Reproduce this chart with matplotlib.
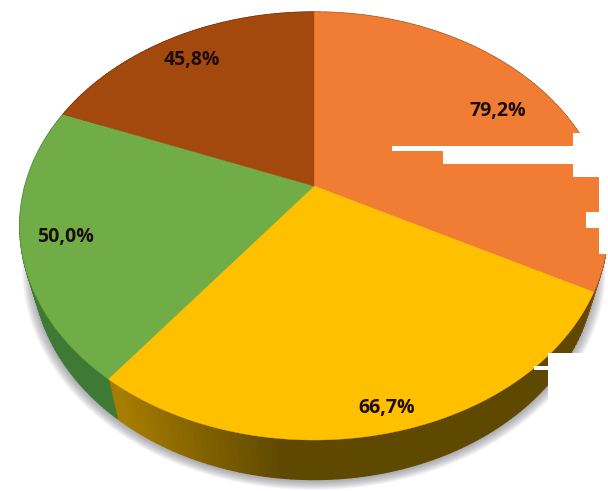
import numpy as np
import matplotlib
matplotlib.use("Agg")
import matplotlib.pyplot as plt
from matplotlib.patches import Polygon, Rectangle
from matplotlib.colors import to_rgb

# Chart values
labels = ['79,2%', '66,7%', '50,0%', '45,8%']
values = [79.2, 66.7, 50.0, 45.8]
colors = ['#F07D33', '#FFC000', '#70AD47', '#A3490E']
wall_left = ['#8F4A1C', '#A67D00', '#3F7A34', '#5E2A08']
wall_right = ['#8F4A1C', '#5F4800', '#4E8A38', '#5E2A08']
label_pos = [(498, 111), (387, 408), (66, 237), (192, 60)]

# Perspective of the pie disc, in pixels
CX, CY = 314, 186
RX, RY = 289, 206.5
TILT = 0.187
DEPTH = 39.5
WALL_SCALE = 0.956

# Patches blanked out in the original picture
white_boxes = [
    (392, 146, 60, 5), (443, 146, 140, 18), (573, 133, 40, 44),
    (599, 177, 15, 77), (586, 212, 20, 16), (548, 353, 70, 52),
    (534, 366, 16, 4),
]


def project(theta):
    """Angle clockwise from the top of the disc to pixel position."""
    x, y = np.sin(theta), np.cos(theta)
    d = 1 + TILT * y
    return CX + RX * x / d, CY - RY * y / d


def lower_rim(px, py):
    return CX + (px - CX) * WALL_SCALE, py + DEPTH


fig = plt.figure(figsize=(6.08, 4.91), dpi=100)
ax = fig.add_axes([0, 0, 1, 1])
ax.set_xlim(0, 608)
ax.set_ylim(491, 0)
ax.axis('off')

edges = np.concatenate([[0], np.cumsum(values)]) / np.sum(values) * 2 * np.pi

# Soft shadow under the disc
t = np.linspace(0, 2 * np.pi, 300)
px, py = project(t)
lx, ly = lower_rim(px, py)
for i in range(24):
    grow = 1 + 0.0016 * (24 - i)
    sx = CX + (lx - CX) * grow
    sy = 230 + (ly - 230) * grow + 1
    ax.add_patch(Polygon(np.c_[sx, sy], closed=True, fc='#777780', ec='none',
                         alpha=0.03, zorder=1))

# Side wall, drawn in small steps so that the shading can change along it
for i in range(len(values)):
    steps = np.linspace(edges[i], edges[i + 1], 90)
    c0, c1 = np.array(to_rgb(wall_left[i])), np.array(to_rgb(wall_right[i]))
    for a, b in zip(steps[:-1], steps[1:]):
        ax_, ay_ = project(a)
        bx_, by_ = project(b)
        alx, aly = lower_rim(ax_, ay_)
        blx, bly = lower_rim(bx_, by_)
        mid = (ax_ + bx_) / 2
        # yellow wall is shaded from x=119 to about x=280, then flat
        f = np.clip((280 - mid) / 161, 0, 1)
        ax.add_patch(Polygon([(ax_, ay_), (bx_, by_), (blx, bly), (alx, aly)],
                             closed=True, fc=c1 + (c0 - c1) * f, ec=c1 + (c0 - c1) * f,
                             lw=1.0, zorder=2))

# Top face
for i in range(len(values)):
    steps = np.linspace(edges[i], edges[i + 1], 120)
    ex, ey = project(steps)
    pts = np.vstack([[CX, CY], np.c_[ex, ey]])
    ax.add_patch(Polygon(pts, closed=True, fc=colors[i], ec=colors[i], lw=0.3, zorder=3))

for box in white_boxes:
    ax.add_patch(Rectangle(box[:2], box[2], box[3], fc='white', ec='none', zorder=4))

for lab, pos in zip(labels, label_pos):
    ax.text(pos[0], pos[1], lab, ha='center', va='center', family='Open Sans',
            fontweight='bold', fontsize=14, color='#1E0D05', zorder=5)

fig.savefig('out.png', dpi=100)
